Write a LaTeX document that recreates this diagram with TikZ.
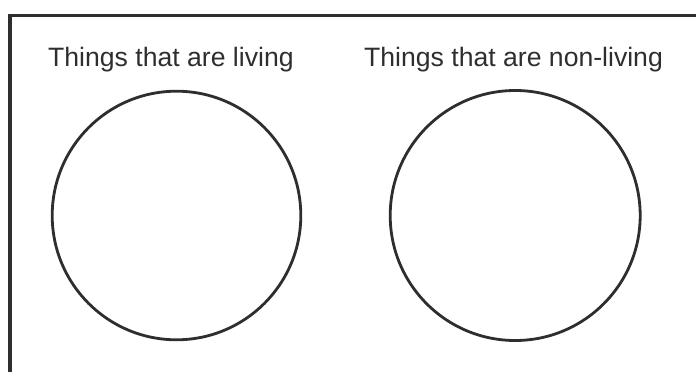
\documentclass[tikz,border=0pt]{standalone}
\usepackage{fontspec}
\setmainfont{Liberation Sans}
\definecolor{ink}{HTML}{2E2E2E}
\begin{document}
\begin{tikzpicture}[x=1pt,y=-1pt,
  frameline/.style={draw=ink,line width=3.5pt},
  ring/.style={draw=ink,line width=2.8pt},
  heading/.style={anchor=base west,inner sep=0pt,text=ink,font=\fontsize{26.6}{30}\selectfont}]
\useasboundingbox (0,0) rectangle (696,372);
\coordinate (fl) at (10,372);
\coordinate (fc) at (10,15.5);
\coordinate (fr) at (696,15.5);
\draw[frameline,line cap=rect] (fl) -- (fc) -- (fr);
\node[heading] (t1) at (48,66) {Things that are living};
\node[heading] (t2) at (364,66) {Things that are non-living};
\draw[ring] (176.5,215.5) circle[radius=124.3];
\draw[ring] (515.2,215.5) circle[radius=125];
\end{tikzpicture}
\end{document}
